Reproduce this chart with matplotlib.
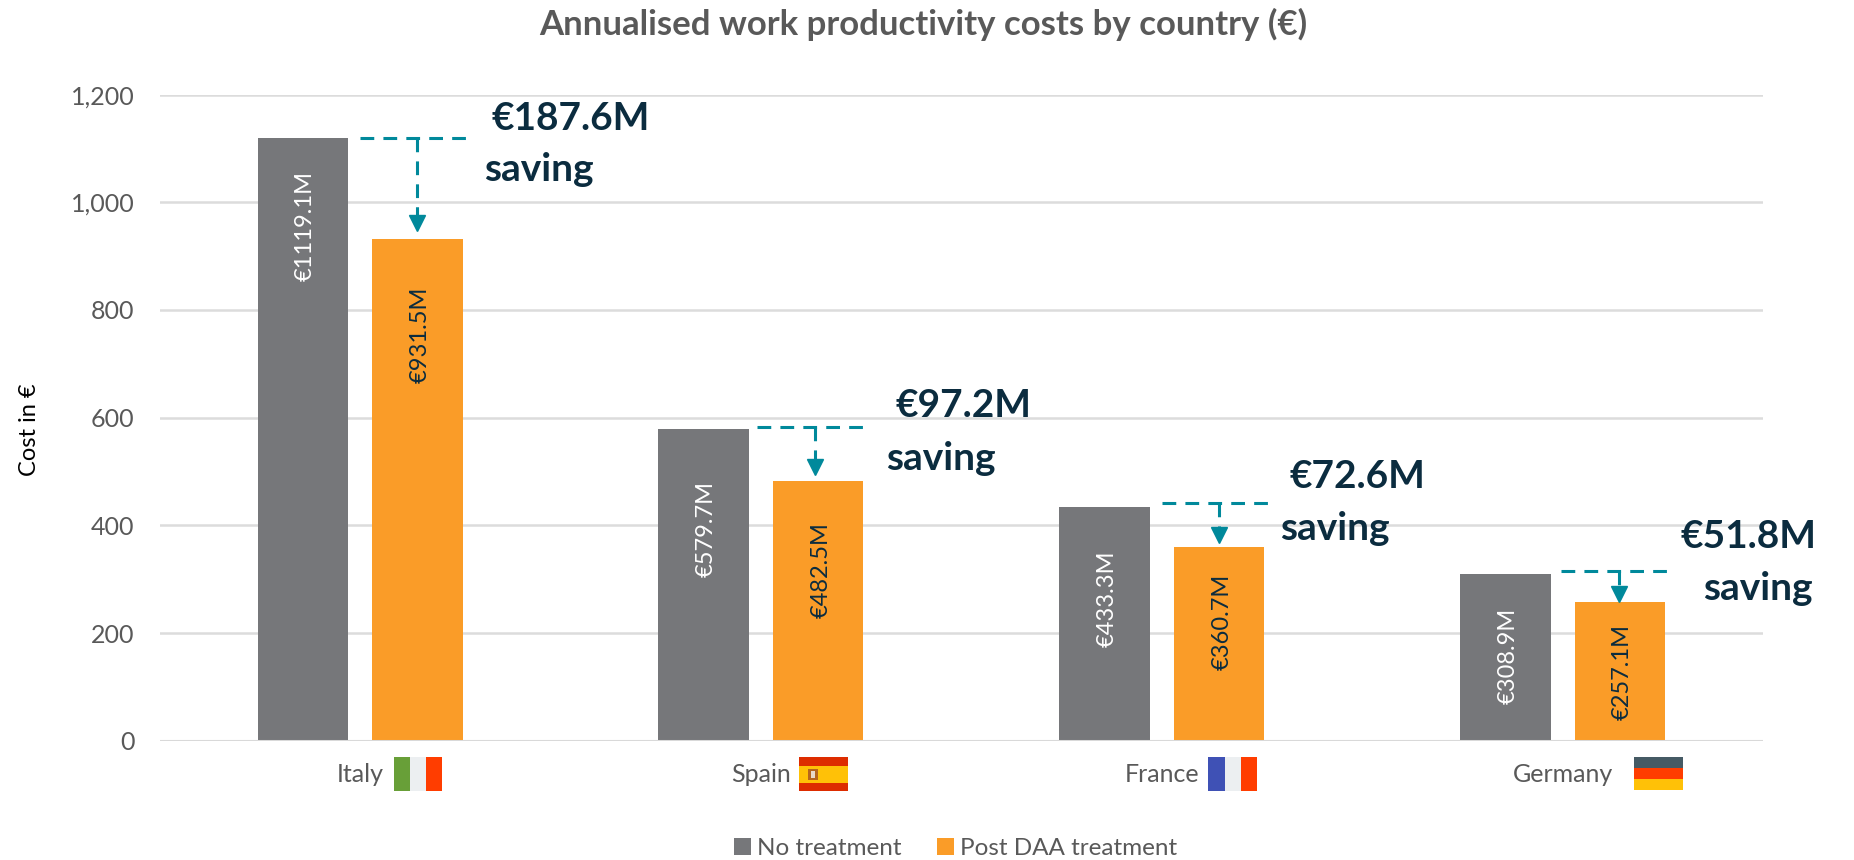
import matplotlib
matplotlib.use('Agg')
import matplotlib.pyplot as plt
from matplotlib.patches import Rectangle

countries = ['Italy', 'Spain', 'France', 'Germany']
no_treatment = [1119.1, 579.7, 433.3, 308.9]
post_daa = [931.5, 482.5, 360.7, 257.1]
no_treatment_labels = ['€1119.1M', '€579.7M', '€433.3M', '€308.9M']
post_daa_labels = ['€931.5M', '€482.5M', '€360.7M', '€257.1M']
saving_labels = ['€187.6M', '€97.2M', '€72.6M', '€51.8M']
y_ticks = [0, 200, 400, 600, 800, 1000, 1200]

# levels of the dashed saving brackets
bracket_top = [1119, 582, 442, 315]
arrow_tip = [947, 495, 368, 259]

W, H = 1854, 860
GREY = '#76777a'
ORANGE = '#fa9c28'
TEAL = '#00899b'
NAVY = '#0b2c3f'
TEXT = '#595959'
S = 1854 / 1568  # picture positions below were measured on the 1568 wide view

plt.rcParams['font.family'] = ['Lato', 'DejaVu Sans']

fig = plt.figure(figsize=(W / 100, H / 100), dpi=100)
ax = fig.add_axes([135 * S / W, 1 - 626.5 * S / H, 1356 * S / W, 546.5 * S / H])


def fx(x):
    return x * S / W


def fy(y):
    return 1 - y * S / H


xs = list(range(len(countries)))
bar_w = 0.2257
off = 0.1428
bars1 = ax.bar([x - off for x in xs], no_treatment, bar_w, color=GREY, label='No treatment', zorder=3)
bars2 = ax.bar([x + off for x in xs], post_daa, bar_w, color=ORANGE, label='Post DAA treatment', zorder=3)

ax.set_xlim(-0.5, 3.5)
ax.set_ylim(0, 1200)
ax.set_yticks(y_ticks)
ax.set_yticklabels([f'{v:,}' for v in y_ticks], color=TEXT, fontsize=18)
ax.set_xticks(xs)
ax.set_xticklabels(countries, color=TEXT, fontsize=18)
ax.tick_params(axis='both', length=0)
ax.tick_params(axis='x', pad=16)
ax.tick_params(axis='y', pad=18)
ax.grid(True, axis='y', color='#dcdcdc', linewidth=1.8, zorder=0)
ax.set_axisbelow(True)
for name in ['top', 'right', 'left', 'bottom']:
    ax.spines[name].set_visible(False)
ax.axhline(0, color='#d9d9d9', linewidth=2.2, zorder=4)

# value labels inside the bars
grey_drop = [74, 85, 77, 69]
orange_drop = [81, 75, 64, 59]
for i in xs:
    ax.annotate(no_treatment_labels[i], (i - off, no_treatment[i]), xytext=(2, -grey_drop[i] * S * 0.72),
                textcoords='offset points', rotation=90, ha='center', va='center',
                color='white', fontsize=17, zorder=5)
    ax.annotate(post_daa_labels[i], (i + off, post_daa[i]), xytext=(2, -orange_drop[i] * S * 0.72),
                textcoords='offset points', rotation=90, ha='center', va='center',
                color=NAVY, fontsize=17, zorder=5)

# dashed saving brackets, Spain sits a little left of its bar in the original
nudge = [0, -0.009, 0, -0.003]
for i in xs:
    ax.plot([i + nudge[i], i + nudge[i] + 0.272], [bracket_top[i], bracket_top[i]], color=TEAL,
            linewidth=2.2, dashes=(4.5, 3), zorder=5)
    ax.plot([i + off + nudge[i]] * 2, [bracket_top[i], arrow_tip[i] + 18], color=TEAL, linewidth=2.2,
            dashes=(4.5, 3), zorder=5)
    ax.plot([i + off + nudge[i]], [arrow_tip[i] + 14], marker='v', color=TEAL, markersize=12,
            linestyle='none', zorder=6)

# saving callouts sit in picture coordinates, they do not follow any scale
amount_pos = [(416, 100), (757, 343), (1091, 403), (1421, 454)]
word_pos = [(409, 143), (749, 388), (1083, 447), (1440, 498)]
for i in xs:
    fig.text(fx(amount_pos[i][0]), fy(amount_pos[i][1]), saving_labels[i], color=NAVY,
             fontsize=28, fontweight='bold', ha='left', va='center')
    fig.text(fx(word_pos[i][0]), fy(word_pos[i][1]), 'saving', color=NAVY,
             fontsize=28, fontweight='bold', ha='left', va='center')

fig.text(fx(781), fy(21), 'Annualised work productivity costs by country (€)', color=TEXT,
         fontsize=25, fontweight='bold', ha='center', va='center')
fig.text(fx(25), fy(363), 'Cost in €', color='black', fontsize=17, rotation=90, ha='center', va='center')


def flag_part(x0, x1, y0, y1, color):
    fig.add_artist(Rectangle((fx(x0), fy(y1)), fx(x1) - fx(x0), fy(y0) - fy(y1),
                             transform=fig.transFigure, facecolor=color, edgecolor='none'))


# vertical tricolours
for left, colors in [(333, ['#689f38', '#eceff1', '#ff3d00']), (1022, ['#3f51b5', '#eceff1', '#ff3d00'])]:
    for k, c in enumerate(colors):
        flag_part(left + k * 41 / 3, left + (k + 1) * 41 / 3, 640, 669, c)
# Spain
flag_part(676, 717, 640, 669, '#dd2c00')
flag_part(676, 717, 648, 662, '#ffc107')
flag_part(683, 692, 650, 660, '#b5651d')
flag_part(686, 689, 652, 658, '#e8d8c8')
# Germany
for k, c in enumerate(['#455a64', '#ff3d00', '#ffc107']):
    flag_part(1382, 1423, 640 + k * 28 / 3, 640 + (k + 1) * 28 / 3, c)

fig.legend(handles=[bars1, bars2], loc='center', bbox_to_anchor=(fx(808), fy(718)), ncol=2, frameon=False,
           fontsize=17.5, labelcolor=TEXT, handlelength=0.7, handleheight=0.7, handletextpad=0.25,
           columnspacing=1.45)

fig.savefig('out.png', dpi=100, facecolor='white')
